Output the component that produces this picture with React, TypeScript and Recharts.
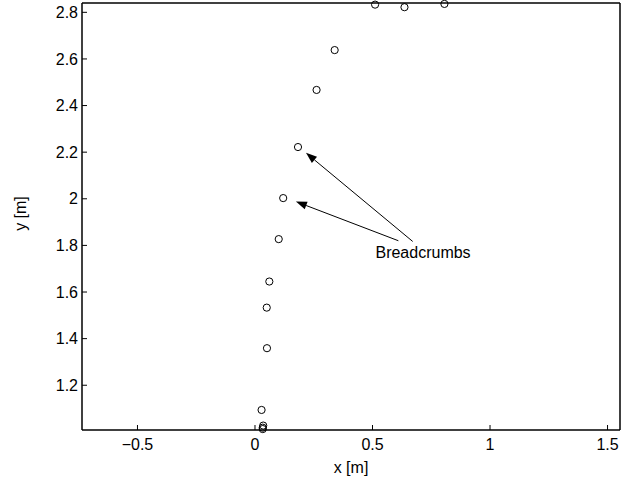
import { ScatterChart, Scatter, XAxis, YAxis, ReferenceLine, ReferenceDot } from 'recharts';

// breadcrumb positions (metres)
const crumbX = [0.033, 0.033, 0.035, 0.028, 0.051, 0.05, 0.061, 0.101, 0.12, 0.183, 0.262, 0.339, 0.511, 0.636, 0.806];
const crumbY = [1.012, 1.018, 1.027, 1.094, 1.359, 1.533, 1.645, 1.827, 2.003, 2.222, 2.467, 2.638, 2.833, 2.822, 2.836];

const xTicks = [-0.5, 0, 0.5, 1, 1.5];
const yTicks = [1.2, 1.4, 1.6, 1.8, 2, 2.2, 2.4, 2.6, 2.8];
const xDomain = [-0.736, 1.553];
const yDomain = [1.008, 2.84];

// annotation: label anchor and the two arrows (tail -> head) in data units
const noteLabel = { x: 0.715, y: 1.769, text: 'Breadcrumbs' };
const arrows = [
  [{ x: 0.671, y: 1.817 }, { x: 0.217, y: 2.197 }],
  [{ x: 0.61, y: 1.82 }, { x: 0.174, y: 1.988 }],
];

const points = crumbX.map((x, i) => ({ x, y: crumbY[i] }));

const font = '"Liberation Sans", Arial, Helvetica, sans-serif';
const fs = 16;
const tickStyle = { fontSize: fs, fill: '#000', fontFamily: font };
const axisLine = { stroke: '#000', strokeWidth: 1.5 };

const fmt = (v: number) => (v < 0 ? '\u2212' + Math.abs(v) : String(v));

function OpenCircle(props: any) {
  const { cx, cy } = props;
  return <circle cx={cx} cy={cy} r={3.6} fill="none" stroke="#000" strokeWidth={1} />;
}

function Arrow(props: any) {
  const { x1, y1, x2, y2 } = props;
  const dx = x2 - x1;
  const dy = y2 - y1;
  const len = Math.sqrt(dx * dx + dy * dy);
  const ux = dx / len;
  const uy = dy / len;
  const hl = 11;
  const hw = 4;
  const bx = x2 - ux * hl;
  const by = y2 - uy * hl;
  const head = `${x2},${y2} ${bx - uy * hw},${by + ux * hw} ${bx + uy * hw},${by - ux * hw}`;
  return (
    <g>
      <line x1={x1} y1={y1} x2={bx} y2={by} stroke="#000" strokeWidth={1} />
      <polygon points={head} fill="#000" />
    </g>
  );
}

export default function App() {
  return (
    <div style={{ position: 'absolute', left: 0, top: 0, background: '#fff' }}>
      <ScatterChart width={622} height={485} margin={{ top: 0, right: 0, bottom: 0, left: 0 }}>
        <XAxis
          xAxisId="b"
          type="number"
          dataKey="x"
          domain={xDomain}
          ticks={xTicks}
          tickFormatter={fmt}
          height={55}
          stroke="#000"
          axisLine={axisLine}
          tickLine={{ stroke: '#000' }}
          tickSize={-5}
          tickMargin={14}
          tick={tickStyle}
          label={{ value: 'x [m]', position: 'center', dy: 10, fill: '#000', fontSize: fs, fontFamily: font }}
        />
        <XAxis
          xAxisId="t"
          orientation="top"
          type="number"
          domain={xDomain}
          ticks={xTicks}
          height={3}
          stroke="#000"
          axisLine={axisLine}
          tickLine={{ stroke: '#000' }}
          tickSize={-5}
          tick={false}
        />
        <YAxis
          yAxisId="l"
          type="number"
          dataKey="y"
          domain={yDomain}
          ticks={yTicks}
          tickFormatter={fmt}
          width={82}
          stroke="#000"
          axisLine={axisLine}
          tickLine={{ stroke: '#000' }}
          tickSize={-5}
          tickMargin={9}
          tick={tickStyle}
          label={{ value: 'y [m]', angle: -90, position: 'center', dx: -21, dy: -3, fill: '#000', fontSize: fs, fontFamily: font }}
        />
        <YAxis
          yAxisId="r"
          orientation="right"
          type="number"
          domain={yDomain}
          ticks={yTicks}
          width={2}
          stroke="#000"
          axisLine={axisLine}
          tickLine={{ stroke: '#000' }}
          tickSize={-5}
          tick={false}
        />
        <Scatter
          xAxisId="b"
          yAxisId="l"
          data={points}
          shape={OpenCircle}
          isAnimationActive={false}
        />
        {arrows.map((seg, i) => (
          <ReferenceLine key={i} xAxisId="b" yAxisId="l" segment={seg} shape={Arrow} />
        ))}
        <ReferenceDot
          xAxisId="b"
          yAxisId="l"
          x={noteLabel.x}
          y={noteLabel.y}
          r={1}
          fill="none"
          stroke="none"
          label={{ value: noteLabel.text, position: 'center', fill: '#000', fontSize: fs, fontFamily: font }}
        />
      </ScatterChart>
    </div>
  );
}
